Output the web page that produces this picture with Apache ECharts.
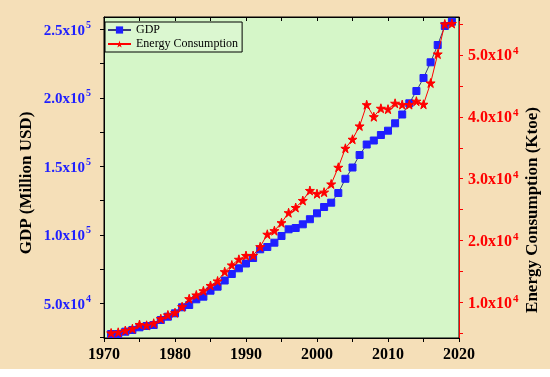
<!DOCTYPE html>
<html><head><meta charset="utf-8">
<script src="https://cdn.jsdelivr.net/npm/echarts@6/dist/echarts.min.js"></script>
<style>html,body{margin:0;padding:0;background:#fff}#c{width:550px;height:377px}</style>
</head><body><div id="c"></div>
<script>
const years = [1971,1972,1973,1974,1975,1976,1977,1978,1979,1980,1981,1982,1983,1984,1985,1986,1987,1988,1989,1990,1991,1992,1993,1994,1995,1996,1997,1998,1999,2000,2001,2002,2003,2004,2005,2006,2007,2008,2009,2010,2011,2012,2013,2014,2015,2016,2017,2018,2019];
const gdp = [27570,27570,29250,30490,32460,33410,34140,37790,40200,42680,47060,48740,52900,54800,59180,62100,66620,71370,75530,79030,83050,89400,91080,94220,99110,104000,104950,107650,111370,115680,120280,123420,130500,140870,149110,158240,165900,168820,172840,175980,181380,187800,195980,204960,214450,225910,238540,252410,255550];
const energy = [5050,5160,5450,5740,6420,6290,6620,7360,7960,8330,9300,10590,11190,11870,12730,13460,14960,16040,16960,17580,17580,19000,21010,21590,22880,24500,25340,26470,28090,27570,27820,29140,31840,34910,36370,38520,41960,40020,41380,41240,42190,41980,41980,42530,42030,45470,50160,55010,55090];
const xTicks = [1970,1980,1990,2000,2010,2020];
const gdpTickLabels = [50000,100000,150000,200000,250000];
const gdpMinorTicks = [25000,50000,75000,100000,125000,150000,175000,200000,225000,250000];
const energyTickLabels = [10000,20000,30000,40000,50000];
const energyMinorTicks = [5000,10000,15000,20000,25000,30000,35000,40000,45000,50000,55000];

const serif = '"Liberation Serif","DejaVu Serif",serif';
function sci(v){
  const e = Math.floor(Math.log10(v) + 1e-9);
  const m = v / Math.pow(10, e);
  return '{m|' + m.toFixed(1) + 'x10}{e|' + e + '}';
}
function rich(color, size){
  return {
    m:{fontFamily:serif,fontWeight:'bold',fontSize:size,color:color,lineHeight:18,verticalAlign:'bottom'},
    e:{fontFamily:serif,fontWeight:'bold',fontSize:Math.round(size*0.66),color:color,lineHeight:18,verticalAlign:'top',padding:[0,0,0,1]}
  };
}
const starPath = 'path://M50,0 L61,35 L98,35 L68,57 L79,91 L50,70 L21,91 L32,57 L2,35 L39,35 Z';

const chart = echarts.init(document.getElementById('c'));
chart.setOption({
  backgroundColor:'#ffffff',
  animation:false,
  graphic:[
    {type:'rect',z:-10,shape:{x:0,y:0,width:550,height:369},style:{fill:'#F5DFB8'},silent:true},
    {type:'text',x:27,y:183,rotation:Math.PI/2,style:{text:'GDP (Million USD)',font:'bold 17px '+serif,fill:'#000',align:'center',verticalAlign:'middle'}},
    {type:'text',x:533,y:210,rotation:Math.PI/2,style:{text:'Energy Consumption (Ktoe)',font:'bold 17px '+serif,fill:'#000',align:'center',verticalAlign:'middle'}}
  ],
  grid:{left:104,right:91,top:17,bottom:39,show:true,backgroundColor:'#D5F6C8',borderColor:'#000',borderWidth:1,containLabel:false},
  legend:{
    left:105,top:22,orient:'vertical',itemWidth:23,itemHeight:9,itemGap:2,
    padding:[2,4,2,2],borderColor:'#000',borderWidth:1,backgroundColor:'rgba(255,255,255,0.15)',
    textStyle:{fontFamily:serif,fontSize:12,color:'#000'},
    data:['GDP','Energy Consumption']
  },
  xAxis:[
    {type:'value',min:1970,max:2020,interval:5,position:'bottom',
     axisLine:{lineStyle:{color:'#000',width:1}},
     axisTick:{inside:false,length:4,lineStyle:{color:'#000'}},
     axisLabel:{formatter:v=>xTicks.includes(v)?String(v):'',fontFamily:serif,fontWeight:'bold',fontSize:16,color:'#000',margin:9},
     splitLine:{show:false}},
    {type:'value',min:1970,max:2020,interval:5,position:'top',
     axisLine:{lineStyle:{color:'#000',width:1}},
     axisTick:{inside:true,length:4,lineStyle:{color:'#000'}},
     axisLabel:{show:false},splitLine:{show:false}}
  ],
  yAxis:[
    {type:'value',min:24650,max:258980,position:'left',
     axisLine:{show:true,lineStyle:{color:'#000',width:1}},
     axisTick:{show:true,length:4,customValues:gdpMinorTicks,lineStyle:{color:'#000'}},
     axisLabel:{customValues:gdpTickLabels,formatter:sci,rich:rich('#1f1fff',15),margin:13},
     splitLine:{show:false}},
    {type:'value',min:4240,max:56145,position:'right',
     axisLine:{show:true,lineStyle:{color:'#ff0000',width:1}},
     axisTick:{show:true,length:4,customValues:energyMinorTicks,lineStyle:{color:'#ff0000'}},
     axisLabel:{customValues:energyTickLabels,formatter:sci,rich:rich('#ff0000',16),margin:9},
     splitLine:{show:false}}
  ],
  series:[
    {name:'GDP',type:'line',xAxisIndex:0,yAxisIndex:0,
     data:years.map((y,i)=>[y,gdp[i]]),
     symbol:'rect',symbolSize:7,
     lineStyle:{color:'#3a3a7a',width:1},
     itemStyle:{color:'#1f1fff',borderColor:'#1f1fff'},z:2},
    {name:'Energy Consumption',type:'line',xAxisIndex:0,yAxisIndex:1,
     data:years.map((y,i)=>[y,energy[i]]),
     symbol:starPath,symbolSize:9,
     lineStyle:{color:'#ff0000',width:1},
     itemStyle:{color:'#ff0000',borderColor:'#ff0000'},z:3}
  ]
});
</script></body></html>
